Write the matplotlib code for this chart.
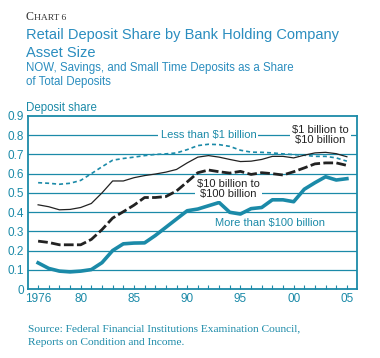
import matplotlib
matplotlib.use("Agg")
import matplotlib.pyplot as plt
import numpy as np

plt.rcParams['font.family'] = ['Liberation Sans', 'DejaVu Sans']

years = list(range(1976, 2006))

less_1b = [0.553, 0.550, 0.545, 0.550, 0.565, 0.600, 0.636, 0.670, 0.679, 0.686,
           0.694, 0.700, 0.703, 0.708, 0.725, 0.746, 0.753, 0.751, 0.742, 0.722,
           0.712, 0.711, 0.708, 0.703, 0.699, 0.696, 0.690, 0.690, 0.682, 0.665]
b1_10 = [0.438, 0.428, 0.412, 0.414, 0.424, 0.445, 0.500, 0.562, 0.562, 0.579,
         0.590, 0.598, 0.608, 0.622, 0.656, 0.686, 0.694, 0.686, 0.674, 0.663,
         0.665, 0.674, 0.690, 0.690, 0.682, 0.696, 0.708, 0.711, 0.704, 0.688]
b10_100 = [0.249, 0.242, 0.230, 0.230, 0.230, 0.258, 0.309, 0.369, 0.402, 0.436,
           0.476, 0.476, 0.481, 0.510, 0.557, 0.605, 0.619, 0.610, 0.603, 0.612,
           0.596, 0.605, 0.600, 0.593, 0.610, 0.630, 0.651, 0.656, 0.656, 0.643]
more_100b = [0.136, 0.107, 0.093, 0.089, 0.093, 0.101, 0.137, 0.200, 0.235, 0.239,
             0.240, 0.278, 0.321, 0.364, 0.407, 0.416, 0.433, 0.450, 0.399, 0.390,
             0.418, 0.424, 0.464, 0.464, 0.454, 0.519, 0.553, 0.584, 0.567, 0.574]

yticks = [0, 0.1, 0.2, 0.3, 0.4, 0.5, 0.6, 0.7, 0.8, 0.9]
ytick_labels = ["0", "0.1", "0.2", "0.3", "0.4", "0.5", "0.6", "0.7", "0.8", "0.9"]
xticks = [1976, 1980, 1985, 1990, 1995, 2000, 2005]
xtick_labels = ["1976", "80", "85", "90", "95", "00", "05"]

teal = "#1b8aa8"
title_col = "#2a8dbf"
dark = "#222222"

W, H = 380, 358
fig = plt.figure(figsize=(W / 100, H / 100), dpi=100)
ax = fig.add_axes([28 / W, 1 - 289 / H, (357 - 28) / W, (289 - 116) / H])

for y in yticks[1:-1]:
    ax.axhline(y, color=teal, lw=0.9, zorder=1)

ax.plot(years, less_1b, color=teal, lw=1.2, ls=(0, (2.4, 1.8)), zorder=3)
ax.plot(years, b1_10, color=dark, lw=0.9, zorder=3)
ax.plot(years, b10_100, color=dark, lw=2.0, ls=(0, (3.5, 1.2)), zorder=3)
ax.plot(years, more_100b, color=teal, lw=2.6, zorder=4)

ax.set_xlim(1975.05, 2005.95)
ax.set_ylim(0, 0.9)
ax.set_yticks(yticks)
ax.set_yticklabels(ytick_labels)
ax.set_xticks(years, minor=True)
ax.set_xticks(xticks)
ax.set_xticklabels(xtick_labels)
ax.tick_params(axis='y', length=0, pad=3, labelsize=8.5, labelcolor=teal)
ax.tick_params(axis='x', which='both', direction='in', length=3, width=0.8,
               color=teal, labelsize=8.5, labelcolor=teal, pad=3)
for s in ax.spines.values():
    s.set_color(teal)
    s.set_linewidth(1.3)

bbox = dict(facecolor='white', edgecolor='none', pad=1.5)
ax.text(1992.0, 0.8, "Less than $1 billion", color=teal, fontsize=8,
        ha='center', va='center', bbox=bbox, zorder=5)
ax.text(2002.5, 0.8, "$1 billion to\n$10 billion", color=dark, fontsize=8,
        ha='center', va='center', linespacing=0.95, bbox=bbox, zorder=5)
ax.text(1993.9, 0.52, "$10 billion to\n$100 billion", color=dark, fontsize=8,
        ha='center', va='center', linespacing=0.95, bbox=bbox, zorder=5)
ax.text(1997.8, 0.342, "More than $100 billion", color=teal, fontsize=8,
        ha='center', va='center', zorder=5)

# header texts
c = fig.text(26 / W, 1 - 20.5 / H, "C", fontsize=8.6, color="#333333",
             family='Liberation Serif', va='baseline')
fig.canvas.draw()
bb = c.get_window_extent()
fig.text(bb.x1 / W + 0.5 / W, 1 - 20.5 / H, "HART 6", fontsize=6.8, color="#333333",
         family='Liberation Serif', va='baseline')

fig.text(26 / W, 1 - 39 / H, "Retail Deposit Share by Bank Holding Company",
         fontsize=10.5, color=title_col, va='baseline')
fig.text(26 / W, 1 - 57 / H, "Asset Size", fontsize=10.5, color=title_col, va='baseline')
fig.text(26 / W, 1 - 71.5 / H, "NOW, Savings, and Small Time Deposits as a Share",
         fontsize=8.3, color=title_col, va='baseline')
fig.text(26 / W, 1 - 85 / H, "of Total Deposits", fontsize=8.3, color=title_col, va='baseline')
fig.text(26 / W, 1 - 111 / H, "Deposit share", fontsize=8.3, color=teal, va='baseline')

fig.text(28 / W, 1 - 331 / H, "Source: Federal Financial Institutions Examination Council,",
         fontsize=8.2, color=teal, family='Liberation Serif', va='baseline')
fig.text(28 / W, 1 - 345 / H, "Reports on Condition and Income.",
         fontsize=8.2, color=teal, family='Liberation Serif', va='baseline')

fig.savefig("out.png", dpi=100)
